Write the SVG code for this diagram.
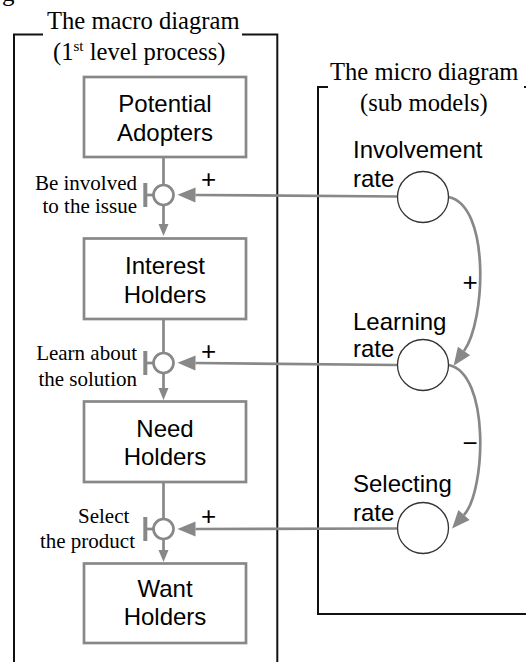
<svg xmlns="http://www.w3.org/2000/svg" width="526" height="662" viewBox="0 0 526 662">
<style>
.frame{fill:none;stroke:#111;stroke-width:2}
.box{fill:#fff;stroke:#888;stroke-width:2.7}
.pipe{fill:none;stroke:#888;stroke-width:2.7}
.valve{fill:#fff;stroke:#888;stroke-width:2.7}
.bar{fill:#888}
.rate{fill:#fff;stroke:#333;stroke-width:1.3}
.serif{font-family:"Liberation Serif","Times New Roman",serif;fill:#000}
.sans{font-family:"Liberation Sans",Arial,sans-serif;fill:#000}
.title{font-size:24.6px}
.lbl{font-size:21px}
.node{font-size:24px;text-anchor:middle}
.rlbl{font-size:24px}
.sign{font-size:26px;text-anchor:middle}
</style>
<defs>
<marker id="big" markerUnits="userSpaceOnUse" markerWidth="18" markerHeight="15" refX="0" refY="7.5" orient="auto" overflow="visible">
<path d="M0,0 L18,7.5 L0,15 Z" fill="#888"/>
</marker>
<marker id="small" markerUnits="userSpaceOnUse" markerWidth="12" markerHeight="10" refX="0" refY="5" orient="auto" overflow="visible">
<path d="M0,0 L12,5 L0,10 Z" fill="#888"/>
</marker>
</defs>
<rect width="526" height="662" fill="#fff"/>
<text class="serif" x="2" y="1" font-size="25">g</text>

<g id="macro-frame">
<path class="frame" d="M14,662 V34.5 H43 M242,34.5 H277.3 V662"/>
<text class="serif title" x="47" y="29">The macro diagram</text>
<text class="serif title" x="53" y="60">(1<tspan font-size="15" dy="-9">st</tspan><tspan dy="9"> level process)</tspan></text>
</g>

<g id="micro-frame">
<path class="frame" d="M328,87 H318 V614 H526 M524,87 H526"/>
<text class="serif title" x="330" y="80" font-size="25">The micro diagram</text>
<text class="serif title" x="360" y="110.7" font-size="25">(sub models)</text>
</g>

<g id="connectors">
<line class="pipe" x1="163.5" y1="157" x2="163.5" y2="184"/>
<line class="pipe" x1="163.5" y1="206" x2="163.5" y2="224" marker-end="url(#small)"/>
<line class="pipe" x1="163.5" y1="319" x2="163.5" y2="352"/>
<line class="pipe" x1="163.5" y1="374" x2="163.5" y2="388" marker-end="url(#small)"/>
<line class="pipe" x1="163.5" y1="482" x2="163.5" y2="518"/>
<line class="pipe" x1="163.5" y1="540" x2="163.5" y2="550" marker-end="url(#small)"/>
<line class="pipe" x1="147" y1="195" x2="153" y2="195"/>
<line class="pipe" x1="147" y1="363" x2="153" y2="363"/>
<line class="pipe" x1="147" y1="529" x2="153" y2="529"/>
<line class="pipe" x1="397.5" y1="196.5" x2="195.5" y2="195" marker-end="url(#big)"/>
<line class="pipe" x1="397.5" y1="365" x2="195.5" y2="363" marker-end="url(#big)"/>
<line class="pipe" x1="397.5" y1="528.5" x2="195.5" y2="529" marker-end="url(#big)"/>
<path class="pipe" d="M448.5,197 C490,205 486,320 464,351" marker-end="url(#big)"/>
<path class="pipe" d="M448.5,365 C490,373 486,490 464,515" marker-end="url(#big)"/>
<text class="sans sign" x="208.5" y="188">+</text>
<text class="sans sign" x="208.5" y="360.2">+</text>
<text class="sans sign" x="208.5" y="524.5">+</text>
<text class="sans sign" x="470" y="290.5">+</text>
<text class="sans sign" x="470" y="451.8">−</text>
</g>

<g id="potential-adopters">
<rect class="box" x="84" y="77" width="162" height="80"/>
<text class="sans node" x="165" y="111.7">Potential</text>
<text class="sans node" x="165" y="140.5">Adopters</text>
</g>

<g id="interest-holders">
<rect class="box" x="84" y="238.5" width="162" height="80.5"/>
<text class="sans node" x="165" y="274.3">Interest</text>
<text class="sans node" x="165" y="302.7">Holders</text>
</g>

<g id="need-holders">
<rect class="box" x="84" y="401.5" width="162" height="80.5"/>
<text class="sans node" x="165" y="436.5">Need</text>
<text class="sans node" x="165" y="465">Holders</text>
</g>

<g id="want-holders">
<rect class="box" x="84" y="563.5" width="162" height="79.5"/>
<text class="sans node" x="165" y="596.7">Want</text>
<text class="sans node" x="165" y="625">Holders</text>
</g>

<g id="valve-involve">
<rect class="bar" x="143.3" y="183" width="4" height="24"/>
<circle class="valve" cx="163.5" cy="195" r="10"/>
<text class="serif lbl" x="137" y="190" text-anchor="end">Be involved</text>
<text class="serif lbl" x="137" y="213.3" text-anchor="end">to the issue</text>
</g>

<g id="valve-learn">
<rect class="bar" x="143.3" y="351" width="4" height="24"/>
<circle class="valve" cx="163.5" cy="363" r="10"/>
<text class="serif lbl" x="137" y="360" text-anchor="end">Learn about</text>
<text class="serif lbl" x="137" y="386" text-anchor="end">the solution</text>
</g>

<g id="valve-select">
<rect class="bar" x="143.3" y="517" width="4" height="24"/>
<circle class="valve" cx="163.5" cy="529" r="10"/>
<text class="serif lbl" x="78" y="523.3">Select</text>
<text class="serif lbl" x="135" y="548.3" text-anchor="end">the product</text>
</g>

<g id="involvement-rate">
<circle class="rate" cx="423" cy="197" r="25.5"/>
<text class="sans rlbl" x="353" y="158.3">Involvement</text>
<text class="sans rlbl" x="353" y="186.7">rate</text>
</g>

<g id="learning-rate">
<circle class="rate" cx="423" cy="365" r="25.5"/>
<text class="sans rlbl" x="353" y="330">Learning</text>
<text class="sans rlbl" x="353" y="357.3">rate</text>
</g>

<g id="selecting-rate">
<circle class="rate" cx="423" cy="528" r="25.5"/>
<text class="sans rlbl" x="353" y="491.7">Selecting</text>
<text class="sans rlbl" x="353" y="520.7">rate</text>
</g>
</svg>
